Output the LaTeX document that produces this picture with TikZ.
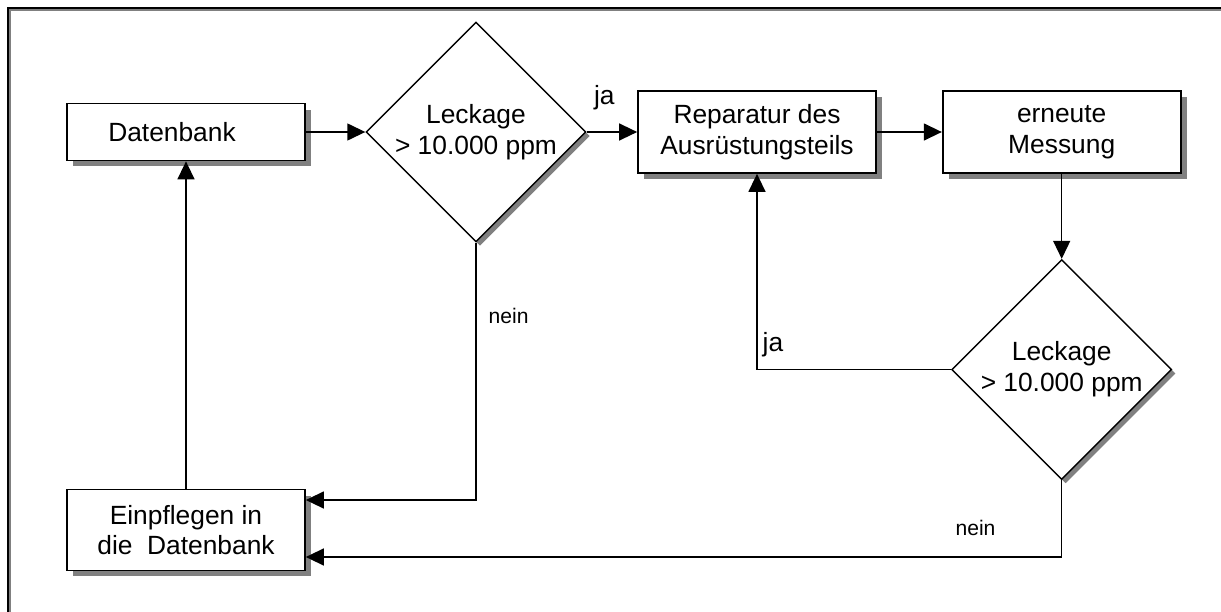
\documentclass[tikz,border=0pt]{standalone}
\usepackage{fontspec}
\setmainfont{Liberation Sans}
\usetikzlibrary{shapes.geometric, arrows.meta, positioning, shadows}

\begin{document}
\begin{tikzpicture}[
    x=0.02cm, y=-0.02cm,
    font=\fontsize{15}{17.5}\selectfont,
    % Styles
    box/.style={rectangle, draw=black, fill=white, line width=1pt, minimum width=4.76cm, align=center, drop shadow={shadow xshift=0.12cm, shadow yshift=-0.12cm, fill=black!50, opacity=1}},
    decision/.style={diamond, draw=black, fill=white, line width=0.8pt, minimum width=4.4cm, minimum height=4.4cm, inner sep=0pt, align=center, drop shadow={shadow xshift=0.08cm, shadow yshift=-0.08cm, fill=black!50, opacity=1}},
    arrow/.style={-{Triangle[length=0.36cm, width=0.34cm]}, line width=0.8pt},
    answer/.style={inner sep=0pt},
    small/.style={inner sep=0pt, font=\fontsize{12}{14}\selectfont}
]

\useasboundingbox (0,0) rectangle (1221,612);

% ------------------- FRAME -------------------
\draw[black!50, line width=1pt] (10,612) -- (10,10) -- (1221,10);
\draw[black, line width=1pt] (8,612) -- (8,8) -- (1221,8);

% ------------------- TOP ROW -------------------
\node[box, minimum height=1.14cm] (db) at (186,132) {Datenbank\hspace*{0.56cm}};
\node[decision] (d1) at (476,132) {Leckage\\> 10.000 ppm};
\node[box, minimum height=1.64cm] (rep) at (757,132) {Reparatur des\\Ausrüstungsteils};
\node[box, minimum height=1.64cm, right=1.3cm of rep] (mess) {erneute\\Messung};

% ------------------- CHECK AND RECORD -------------------
\node[decision, below=1.7cm of mess] (d2) {Leckage\\> 10.000 ppm};
\node[box, minimum height=1.62cm] (ein) at (186,530) {Einpflegen in\\die~ Datenbank};

\draw[arrow] (db) -- (d1);
\draw[arrow] (d1) -- node[pos=0.35, above=0.42cm, answer] {ja} (rep);
\draw[arrow] (rep) -- (mess);
\draw[arrow] (mess) -- (d2);
\draw[arrow] (d2.west) -| node[pos=0.5, anchor=south west, answer, xshift=0.1cm, yshift=0.24cm] {ja} (rep.south);

\draw[arrow] (d1.south) |- node[pos=0.143, right=0.24cm, small] {nein} ([yshift=0.6cm]ein.east);
\draw[arrow] (d2.south) |- node[pos=0.557, above=0.42cm, small] {nein} ([yshift=-0.54cm]ein.east);
\draw[arrow] (ein) -- (db);

\end{tikzpicture}
\end{document}
